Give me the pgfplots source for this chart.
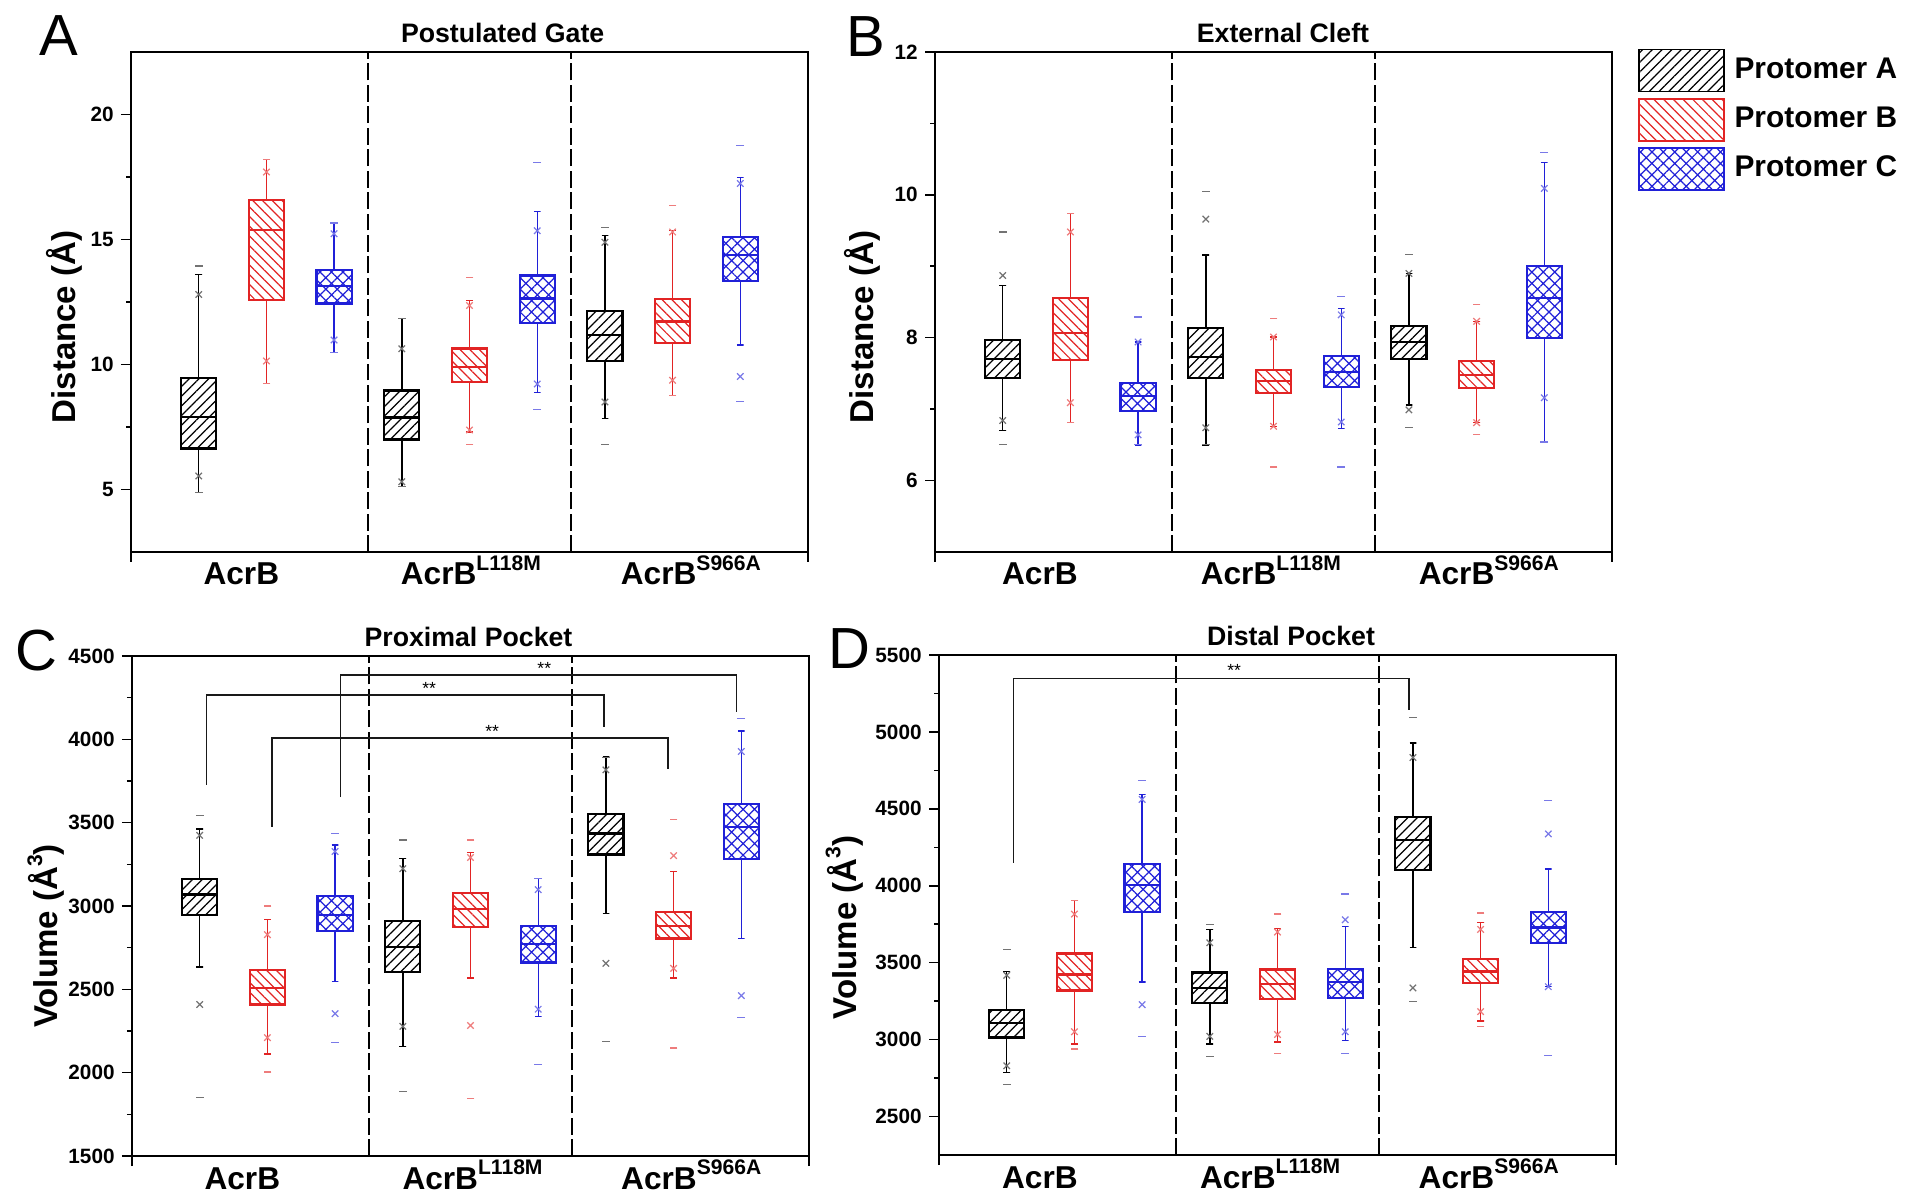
\documentclass[border=0pt]{standalone}
\usepackage{fontspec}
\setmainfont{Liberation Sans}
\usepackage{pgfplots}
\pgfplotsset{compat=1.18}
\usetikzlibrary{patterns.meta}

\definecolor{pB}{RGB}{226,36,36}
\definecolor{pC}{RGB}{32,32,216}

% one box: series (A/B/C), position, lower whisker, Q1, median, Q3, upper whisker
\newcommand\bx[7]{%
  \pgfmathsetmacro\xl{#2-0.26}\pgfmathsetmacro\xr{#2+0.26}%
  \pgfmathsetmacro\kl{#2-0.05}\pgfmathsetmacro\kr{#2+0.05}%
  \edef\doit{%
    \noexpand\addplot[w#1] coordinates {(\kl,#7) (\kr,#7) (#2,#7) (#2,#6)};
    \noexpand\addplot[w#1] coordinates {(\kl,#3) (\kr,#3) (#2,#3) (#2,#4)};
    \noexpand\addplot[b#1] coordinates {(\xl,#4) (\xr,#4) (\xr,#6) (\xl,#6)} --cycle;
    \noexpand\addplot[m#1] coordinates {(\xl,#5) (\xr,#5)};}%
  \doit}

\pgfplotsset{
  panel/.style={scale only axis,width=6.77cm,height=5cm,xmin=0,xmax=10,
    axis line style={line width=0.5pt},
    every tick/.style={black,line width=0.45pt},
    tick align=outside,xtick pos=bottom,ytick pos=left,
    major tick length=0.1cm,minor tick length=0.05cm,minor y tick num=1,
    xtick={0,10},xticklabels={},
    extra x tick style={major tick length=0pt},
    xticklabel style={font=\bfseries\fontsize{9}{10}\selectfont,anchor=base,yshift=-0.33cm},
    yticklabel style={font=\bfseries\fontsize{5.9}{6}\selectfont,xshift=0.05cm},
    /pgf/number format/assume math mode=true,
    /pgf/number format/1000 sep={},
    ylabel style={font=\bfseries\fontsize{9.4}{10}\selectfont,anchor=center},
    title style={font=\bfseries\fontsize{7.6}{8}\selectfont,anchor=south,inner sep=2.4pt,yshift=-0.21cm}},
  bA/.style={draw=black,line width=0.6pt,
    pattern={Lines[angle=45,distance=1.95pt,line width=0.35pt]},pattern color=black},
  bB/.style={draw=pB,line width=0.6pt,
    pattern={Lines[angle=-45,distance=1.95pt,line width=0.35pt]},pattern color=pB},
  bC/.style={draw=pC,line width=0.6pt,
    pattern={Hatch[angle=45,distance=2.3pt,line width=0.35pt]},pattern color=pC},
  wA/.style={black,line width=0.4pt},
  wB/.style={pB,line width=0.4pt},
  wC/.style={pC,line width=0.4pt},
  mA/.style={black,line width=0.6pt},
  mB/.style={pB,line width=0.6pt},
  mC/.style={pC,line width=0.6pt},
  xm/.style={only marks,mark=x,mark size=1.3pt,#1,mark options={line width=0.35pt}},
  dm/.style={only marks,mark=-,mark size=1.1pt,#1,mark options={line width=0.35pt}},
  sep/.style={black,line width=0.6pt,dash pattern=on 4.8pt off 1.3pt},
  brk/.style={black!90,line width=0.4pt},
}

\begin{document}
\begin{tikzpicture}
\path[use as bounding box] (0,0) rectangle (19.2,11.98);

% ---------------- A
\begin{axis}[panel,at={(1.31cm,6.46cm)},anchor=south west,
  ymin=2.5,ymax=22.5,ytick={5,10,15,20},
  extra x ticks={1.63,5.02,8.27},
  extra x tick labels={AcrB,AcrB\raisebox{0.85ex}{\fontsize{6}{6}\selectfont L118M},AcrB\raisebox{0.85ex}{\fontsize{6}{6}\selectfont S966A}},
  ylabel={Distance (Å)},ylabel style={at={(axis description cs:-0.099,0.45)}},
  title={Postulated Gate},title style={at={(axis description cs:0.549,1)}}]
\addplot[sep] coordinates {(3.5,2.5) (3.5,22.5)};
\addplot[sep] coordinates {(6.5,2.5) (6.5,22.5)};
\bx{A}{1}{4.88}{6.64}{7.91}{9.45}{13.6}
\bx{B}{2}{9.25}{12.59}{15.38}{16.58}{18.19}
\bx{C}{3}{10.48}{12.44}{13.13}{13.77}{15.66}
\bx{A}{4}{5.11}{7.0}{7.88}{8.96}{11.83}
\bx{B}{5}{7.3}{9.29}{9.91}{10.64}{12.55}
\bx{C}{6}{8.88}{11.67}{12.64}{13.56}{16.12}
\bx{A}{7}{7.84}{10.14}{11.18}{12.13}{15.15}
\bx{B}{8}{8.76}{10.86}{11.72}{12.62}{15.35}
\bx{C}{9}{10.78}{13.33}{14.39}{15.09}{17.47}
\addplot[xm=black!55] coordinates {(1,12.8) (1,5.54) (4,10.63) (4,5.31) (7,14.89) (7,8.5)};
\addplot[xm=pB!60] coordinates {(2,17.7) (2,10.14) (5,12.36) (5,7.38) (8,15.3) (8,9.37)};
\addplot[xm=pC!60] coordinates {(3,15.23) (3,10.98) (6,15.35) (6,9.22) (9,17.24) (9,9.52)};
\addplot[dm=black!55] coordinates {(1,13.94) (1,4.88) (4,11.83) (4,5.11) (7,15.48) (7,6.79)};
\addplot[dm=pB!60] coordinates {(2,18.19) (2,9.25) (5,13.48) (5,6.79) (8,16.35) (8,8.76)};
\addplot[dm=pC!60] coordinates {(3,15.66) (3,10.48) (6,18.08) (6,8.19) (9,18.76) (9,8.53)};
\end{axis}

% ---------------- B
\begin{axis}[panel,at={(9.35cm,6.46cm)},anchor=south west,
  ymin=5,ymax=12,ytick={6,8,10,12},
  extra x ticks={1.55,4.96,8.18},
  extra x tick labels={AcrB,AcrB\raisebox{0.85ex}{\fontsize{6}{6}\selectfont L118M},AcrB\raisebox{0.85ex}{\fontsize{6}{6}\selectfont S966A}},
  ylabel={Distance (Å)},ylabel style={at={(axis description cs:-0.108,0.45)}},
  title={External Cleft},title style={at={(axis description cs:0.514,1)}},
  legend image code/.code={\draw[#1] (0cm,-0.21cm) rectangle (0.85cm,0.21cm);},
  legend cell align=left,
  legend style={at={(axis description cs:1.037,1.008)},anchor=north west,draw=none,fill=none,
    inner sep=0pt,row sep=0.055cm,column sep=0.1cm,nodes={inner sep=0pt},
    font=\bfseries\fontsize{8.5}{9}\selectfont}]
\addlegendimage{bA,line width=0.5pt}
\addlegendentry{Protomer A}
\addlegendimage{bB,line width=0.5pt}
\addlegendentry{Protomer B}
\addlegendimage{bC,line width=0.5pt}
\addlegendentry{Protomer C}
\addplot[sep] coordinates {(3.5,5) (3.5,12)};
\addplot[sep] coordinates {(6.5,5) (6.5,12)};
\bx{A}{1}{6.70}{7.43}{7.70}{7.97}{8.73}
\bx{B}{2}{6.81}{7.69}{8.07}{8.55}{9.74}
\bx{C}{3}{6.50}{6.98}{7.18}{7.37}{7.94}
\bx{A}{4}{6.50}{7.43}{7.73}{8.13}{9.16}
\bx{B}{5}{6.76}{7.22}{7.40}{7.55}{8.01}
\bx{C}{6}{6.73}{7.31}{7.52}{7.74}{8.41}
\bx{A}{7}{7.06}{7.70}{7.94}{8.17}{8.90}
\bx{B}{8}{6.81}{7.29}{7.48}{7.67}{8.23}
\bx{C}{9}{6.54}{7.99}{8.56}{9.01}{10.45}
\addplot[xm=black!55] coordinates {(1,8.87) (1,6.84) (4,9.66) (4,6.74) (7,8.90) (7,6.99)};
\addplot[xm=pB!60] coordinates {(2,9.48) (2,7.09) (5,8.01) (5,6.76) (8,8.23) (8,6.81)};
\addplot[xm=pC!60] coordinates {(3,7.94) (3,6.64) (6,8.32) (6,6.82) (9,10.09) (9,7.16)};
\addplot[dm=black!55] coordinates {(1,9.48) (1,6.50) (4,10.05) (4,6.50) (7,9.17) (7,6.74)};
\addplot[dm=pB!60] coordinates {(2,9.74) (2,6.81) (5,8.27) (5,6.19) (8,8.47) (8,6.65)};
\addplot[dm=pC!60] coordinates {(3,8.29) (3,6.50) (6,8.58) (6,6.19) (9,10.59) (9,6.54)};
\end{axis}

% ---------------- C
\begin{axis}[panel,at={(1.32cm,0.42cm)},anchor=south west,
  ymin=1500,ymax=4500,ytick={1500,2000,2500,3000,3500,4000,4500},
  extra x ticks={1.63,5.03,8.26},
  extra x tick labels={AcrB,AcrB\raisebox{0.85ex}{\fontsize{6}{6}\selectfont L118M},AcrB\raisebox{0.85ex}{\fontsize{6}{6}\selectfont S966A}},
  ylabel={Volume (Å\raisebox{0.9ex}{\fontsize{6}{6}\selectfont 3})},ylabel style={at={(axis description cs:-0.127,0.44)}},
  title={Proximal Pocket},title style={at={(axis description cs:0.497,1)}}]
\addplot[sep] coordinates {(3.5,1500) (3.5,4500)};
\addplot[sep] coordinates {(6.5,1500) (6.5,4500)};
\addplot[brk] coordinates {(1.1,3726) (1.1,4266) (6.97,4266) (6.97,4076)};
\addplot[brk] coordinates {(3.08,3653) (3.08,4385) (8.93,4385) (8.93,4161)};
\addplot[brk] coordinates {(2.07,3476) (2.07,4008) (7.92,4008) (7.92,3820)};
\node[font=\fontsize{5}{5}\selectfont] at (axis cs:4.39,4305) {**};
\node[font=\fontsize{5}{5}\selectfont] at (axis cs:6.09,4424) {**};
\node[font=\fontsize{5}{5}\selectfont] at (axis cs:5.32,4047) {**};
\bx{A}{1}{2633}{2947}{3069}{3160}{3462}
\bx{B}{2}{2111}{2409}{2507}{2617}{2920}
\bx{C}{3}{2546}{2851}{2947}{3062}{3366}
\bx{A}{4}{2157}{2604}{2755}{2908}{3286}
\bx{B}{5}{2569}{2874}{2981}{3080}{3320}
\bx{C}{6}{2336}{2661}{2771}{2881}{3165}
\bx{A}{7}{2954}{3309}{3435}{3550}{3893}
\bx{B}{8}{2569}{2805}{2881}{2965}{3206}
\bx{C}{9}{2805}{3282}{3474}{3614}{4049}
\addplot[xm=black!55] coordinates {(1,3424) (1,2409) (4,3224) (4,2278) (7,3817) (7,2656)};
\addplot[xm=pB!60] coordinates {(2,2828) (2,2210) (5,3291) (5,2283) (8,3302) (8,2626)};
\addplot[xm=pC!60] coordinates {(3,3327) (3,2354) (6,3098) (6,2381) (9,3927) (9,2462)};
\addplot[dm=black!55] coordinates {(1,3545) (1,1850) (4,3396) (4,1889) (7,3893) (7,2187)};
\addplot[dm=pB!60] coordinates {(2,3000) (2,2004) (5,3396) (5,1843) (8,3520) (8,2148)};
\addplot[dm=pC!60] coordinates {(3,3433) (3,2182) (6,3165) (6,2049) (9,4127) (9,2331)};
\end{axis}

% ---------------- D
\begin{axis}[panel,at={(9.39cm,0.43cm)},anchor=south west,
  ymin=2250,ymax=5500,ytick={2500,3000,3500,4000,4500,5000,5500},
  extra x ticks={1.49,4.89,8.12},
  extra x tick labels={AcrB,AcrB\raisebox{0.85ex}{\fontsize{6}{6}\selectfont L118M},AcrB\raisebox{0.85ex}{\fontsize{6}{6}\selectfont S966A}},
  ylabel={Volume (Å\raisebox{0.9ex}{\fontsize{6}{6}\selectfont 3})},ylabel style={at={(axis description cs:-0.14,0.455)}},
  title={Distal Pocket},title style={at={(axis description cs:0.52,1)}}]
\addplot[sep] coordinates {(3.5,2250) (3.5,5500)};
\addplot[sep] coordinates {(6.5,2250) (6.5,5500)};
\addplot[brk] coordinates {(1.1,4151) (1.1,5348) (6.94,5348) (6.94,5145)};
\node[font=\fontsize{5}{5}\selectfont] at (axis cs:4.36,5400) {**};
\bx{A}{1}{2785}{3014}{3108}{3190}{3443}
\bx{B}{2}{2971}{3319}{3423}{3560}{3903}
\bx{C}{3}{3374}{3828}{4007}{4144}{4593}
\bx{A}{4}{2971}{3237}{3337}{3436}{3717}
\bx{B}{5}{2984}{3262}{3361}{3456}{3724}
\bx{C}{6}{2996}{3269}{3374}{3461}{3736}
\bx{A}{7}{3597}{4101}{4295}{4449}{4929}
\bx{B}{8}{3120}{3369}{3443}{3525}{3761}
\bx{C}{9}{3344}{3630}{3729}{3828}{4109}
\addplot[xm=black!55] coordinates {(1,3418) (1,2830) (4,3630) (4,3021) (7,4834) (7,3336)};
\addplot[xm=pB!60] coordinates {(2,3816) (2,3051) (5,3699) (5,3033) (8,3716) (8,3182)};
\addplot[xm=pC!60] coordinates {(3,4561) (3,3227) (6,3779) (6,3051) (9,4337) (9,3344)};
\addplot[dm=black!55] coordinates {(1,3585) (1,2706) (4,3746) (4,2892) (7,5095) (7,3249)};
\addplot[dm=pB!60] coordinates {(2,3903) (2,2939) (5,3816) (5,2909) (8,3823) (8,3083)};
\addplot[dm=pC!60] coordinates {(3,4685) (3,3021) (6,3947) (6,2909) (9,4556) (9,2897)};
\end{axis}

\node[font=\fontsize{16.5}{18}\selectfont] at (0.59,11.62) {A};
\node[font=\fontsize{16.5}{18}\selectfont] at (8.66,11.61) {B};
\node[font=\fontsize{16.5}{18}\selectfont] at (0.36,5.47) {C};
\node[font=\fontsize{16.5}{18}\selectfont] at (8.49,5.49) {D};
\end{tikzpicture}
\end{document}
